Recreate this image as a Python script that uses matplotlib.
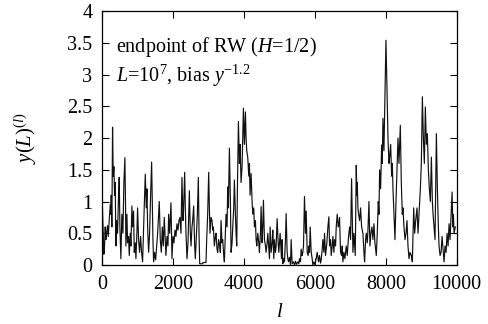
import matplotlib
matplotlib.use("Agg")
import matplotlib.pyplot as plt
from matplotlib.ticker import FuncFormatter

plt.rcParams['font.family'] = ['Liberation Serif', 'DejaVu Serif']
plt.rcParams['mathtext.fontset'] = 'custom'
plt.rcParams['mathtext.rm'] = 'Liberation Serif'
plt.rcParams['mathtext.it'] = 'Liberation Serif:italic'

# vertices (l, y)
l_vals = [0, 9, 28, 47, 66, 85, 103, 122, 150, 169, 198, 226, 245, 254, 273, 292, 311, 330, 348, 367,
          386, 405, 433, 461, 480, 499, 527, 555, 584, 612, 640, 659, 668, 697, 715, 744, 763, 791, 810, 838,
          857, 885, 904, 932, 951, 979, 998, 1026, 1054, 1083, 1111, 1139, 1168, 1196, 1215, 1243, 1262, 1281, 1309, 1337,
          1365, 1394, 1413, 1431, 1450, 1478, 1507, 1535, 1563, 1592, 1610, 1638, 1667, 1695, 1723, 1751, 1780, 1798, 1827, 1855,
          1874, 1902, 1940, 1968, 1996, 2024, 2053, 2081, 2109, 2137, 2166, 2194, 2222, 2250, 2279, 2297, 2326, 2345, 2363, 2392,
          2420, 2458, 2486, 2505, 2533, 2552, 2580, 2608, 2627, 2655, 2684, 2712, 2731, 2750, 2834, 2844, 2928, 2947, 2975, 3004,
          3023, 3041, 3070, 3098, 3117, 3136, 3164, 3192, 3211, 3239, 3258, 3286, 3315, 3333, 3352, 3380, 3399, 3427, 3446, 3475,
          3493, 3522, 3540, 3559, 3588, 3616, 3635, 3663, 3682, 3710, 3729, 3757, 3776, 3795, 3814, 3842, 3870, 3889, 3917, 3945,
          3964, 3983, 4011, 4040, 4058, 4077, 4105, 4134, 4153, 4171, 4200, 4228, 4247, 4275, 4294, 4322, 4341, 4360, 4388, 4416,
          4435, 4463, 4482, 4510, 4529, 4548, 4576, 4605, 4623, 4652, 4671, 4699, 4718, 4737, 4765, 4793, 4812, 4840, 4859, 4887,
          4906, 4934, 4963, 4982, 5019, 5057, 5075, 5094, 5122, 5141, 5170, 5188, 5217, 5236, 5254, 5283, 5311, 5330, 5358, 5396,
          5424, 5452, 5480, 5518, 5546, 5565, 5593, 5612, 5640, 5659, 5678, 5706, 5735, 5754, 5782, 5810, 5829, 5848, 5867, 5895,
          5923, 5942, 5970, 5998, 6036, 6064, 6102, 6130, 6158, 6177, 6205, 6224, 6253, 6271, 6300, 6319, 6337, 6366, 6394, 6413,
          6441, 6460, 6488, 6507, 6535, 6554, 6582, 6601, 6629, 6658, 6677, 6695, 6723, 6752, 6770, 6789, 6817, 6846, 6883, 6912,
          6949, 6978, 7006, 7034, 7053, 7072, 7100, 7138, 7166, 7185, 7194, 7213, 7232, 7260, 7288, 7317, 7354, 7383, 7401, 7430,
          7449, 7477, 7496, 7524, 7552, 7580, 7609, 7637, 7665, 7693, 7731, 7759, 7787, 7806, 7825, 7853, 7882, 7900, 7919, 7947,
          7976, 8004, 8032, 8061, 8089, 8108, 8136, 8164, 8183, 8202, 8230, 8258, 8287, 8315, 8343, 8371, 8409, 8437, 8465, 8484,
          8512, 8541, 8569, 8597, 8625, 8654, 8682, 8720, 8748, 8786, 8814, 8842, 8880, 8908, 8936, 8974, 9002, 9031, 9059, 9087,
          9115, 9144, 9172, 9200, 9228, 9256, 9285, 9313, 9332, 9360, 9388, 9426, 9454, 9482, 9501, 9530, 9558, 9586, 9614, 9643,
          9671, 9699, 9727, 9756, 9784, 9812, 9840, 9869, 9888, 9906, 9925, 9960]
y_vals = [1.12, 0.85, 0.48, 0.17, 0.3, 0.6, 0.4, 0.5, 0.62, 0.45, 0.7, 0.95, 0.8, 1.1, 0.6, 2.17, 1.4, 1.55, 1.1, 1.3,
          0.3, 0.7, 0.5, 1.1, 1.38, 0.6, 0.1, 0.8, 0.5, 1.3, 1.69, 0.9, 0.3, 0.8, 0.35, 0.45, 0.15, 0.5, 0.3, 0.93,
          0.6, 0.85, 0.2, 0.35, 0.1, 0.5, 0.9, 0.4, 0.2, 0.45, 0.2, 0.05, 0.6, 1.1, 1.43, 0.9, 1.2, 0.6, 0.2, 0.5,
          1.1, 1.62, 1.0, 0.4, 0.05, 0.2, 0.08, 0.3, 0.5, 0.8, 1.0, 0.4, 0.2, 0.6, 0.3, 0.75, 0.4, 0.15, 0.45, 0.3,
          0.8, 0.5, 0.98, 0.1, 0.45, 0.35, 0.55, 0.45, 0.65, 0.55, 0.7, 0.75, 0.5, 1.38, 0.7, 0.9, 1.46, 0.9, 0.5, 0.1,
          0.35, 1.17, 0.5, 0.3, 0.6, 0.7, 0.93, 0.3, 0.1, 0.45, 0.8, 1.38, 0.5, 0.02, 0.02, 0.04, 0.04, 0.4, 0.8, 1.46,
          0.9, 0.5, 0.75, 0.7, 0.55, 0.6, 0.3, 0.45, 0.5, 0.25, 0.2, 0.4, 0.3, 0.2, 0.7, 0.35, 0.4, 0.15, 0.05, 0.5,
          0.8, 0.6, 1.23, 0.9, 1.84, 1.0, 0.2, 0.35, 0.6, 0.9, 1.34, 0.8, 0.5, 0.3, 1.2, 2.26, 1.6, 1.9, 1.3, 1.55,
          2.0, 2.47, 1.9, 2.41, 2.0, 1.8, 1.7, 1.4, 1.6, 1.1, 1.44, 1.0, 0.8, 0.9, 0.6, 0.7, 0.4, 0.3, 0.5, 0.35,
          0.2, 0.5, 0.92, 0.35, 0.6, 1.02, 0.4, 0.3, 0.2, 0.35, 0.5, 0.25, 0.1, 0.6, 0.2, 0.35, 0.55, 0.1, 0.4, 0.2,
          0.3, 0.73, 0.35, 0.2, 0.5, 0.1, 0.4, 0.02, 0.1, 0.05, 0.4, 0.81, 0.2, 0.1, 0.05, 0.12, 0.0, 0.4, 0.02, 0.05,
          0.0, 0.06, 0.01, 0.05, 0.02, 0.1, 0.05, 0.25, 0.15, 0.2, 0.3, 1.08, 0.5, 0.85, 0.2, 0.15, 0.3, 0.2, 0.6, 0.2,
          0.1, 0.0, 0.05, 0.01, 0.1, 0.2, 0.05, 0.15, 0.03, 0.08, 0.25, 0.4, 0.2, 0.5, 0.15, 0.25, 0.35, 0.6, 0.76, 0.3,
          0.4, 0.15, 0.3, 0.45, 0.2, 0.4, 0.3, 0.6, 0.8, 0.6, 0.65, 0.75, 0.2, 0.15, 0.3, 0.05, 0.2, 0.1, 0.3, 0.15,
          0.45, 0.6, 0.4, 1.36, 0.8, 0.2, 0.5, 0.15, 1.57, 1.1, 1.3, 0.9, 0.8, 0.7, 0.9, 0.6, 0.5, 0.2, 0.05, 0.4,
          0.5, 0.35, 0.55, 1.0, 0.3, 0.5, 0.6, 0.4, 0.65, 0.35, 0.15, 0.5, 1.0, 0.8, 1.5, 1.2, 1.89, 1.6, 2.31, 1.8,
          2.7, 3.54, 2.8, 2.0, 1.6, 1.7, 1.9, 1.4, 1.6, 1.2, 0.8, 0.4, 1.0, 1.5, 2.0, 1.6, 2.2, 1.3, 0.8, 0.9,
          0.6, 0.4, 0.5, 0.7, 0.3, 0.1, 0.2, 0.15, 0.05, 0.9, 0.5, 0.7, 0.9, 0.5, 0.8, 1.2, 1.6, 2.65, 2.0, 1.6,
          2.49, 1.9, 2.07, 1.5, 1.2, 1.0, 1.7, 1.0, 0.8, 0.6, 0.4, 2.07, 1.2, 0.6, 0.3, 0.15, 0.2, 0.45, 0.25, 0.05,
          0.3, 0.2, 0.5, 0.3, 0.65, 0.4, 0.75, 1.15, 0.6, 0.8, 0.5, 0.6]

x_ticks = [0, 2000, 4000, 6000, 8000, 10000]
y_ticks = [0, 0.5, 1, 1.5, 2, 2.5, 3, 3.5, 4]

fig = plt.figure(figsize=(4.89, 3.24), dpi=100)
ax = fig.add_axes([0.209, 0.182, 0.725, 0.784])

ax.plot(l_vals, y_vals, color='#111111', lw=0.85)

ax.set_xlim(0, 10000)
ax.set_ylim(0, 4)
ax.set_xticks(x_ticks)
ax.set_yticks(y_ticks)
ax.yaxis.set_major_formatter(FuncFormatter(lambda v, p: '%g' % v))
ax.tick_params(direction='in', top=True, right=True, length=5, width=0.8,
               labelsize=14.5, pad=7)
for s in ax.spines.values():
    s.set_linewidth(0.9)

ax.set_xlabel(r'$l$', fontsize=15, labelpad=7)
ax.set_ylabel(r'$y(L)^{(l)}$', fontsize=15, labelpad=20)

ax.text(0.04, 0.84, r'endpoint of RW ($H$=1/2)', transform=ax.transAxes, fontsize=14.5)
ax.text(0.04, 0.72, r'$L$=10$^7$, bias $y^{-1.2}$', transform=ax.transAxes, fontsize=14.5)

fig.savefig('out.png', dpi=100)
